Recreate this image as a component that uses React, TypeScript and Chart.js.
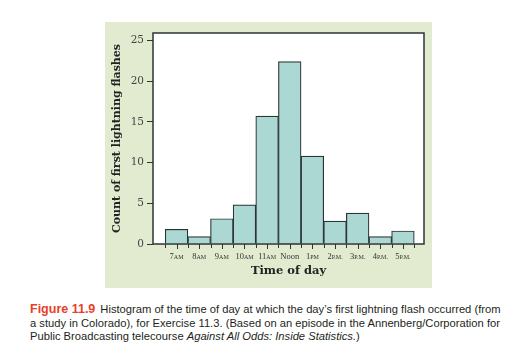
import React, { useEffect, useRef } from "react";
import { Chart, registerables } from "chart.js";

Chart.register(...registerables);

const timeLabels = ["7AM", "8AM", "9AM", "10AM", "11AM", "Noon", "1PM", "2P.M.", "3P.M.", "4P.M.", "5P.M."];
const counts = [1.8, 0.9, 3.1, 4.8, 15.7, 22.4, 10.8, 2.8, 3.8, 0.9, 1.6];
const yTicks = [0, 5, 10, 15, 20, 25];

const DARK = "#2b3535";

export default function App() {
  const ref = useRef<HTMLCanvasElement | null>(null);

  useEffect(() => {
    const canvas = ref.current;
    if (!canvas) return;

    const framePlugin = {
      id: "frame",
      beforeDatasetsDraw(chart: any) {
        const { ctx, chartArea: a } = chart;
        ctx.save();
        ctx.fillStyle = "#ffffff";
        ctx.fillRect(a.left, a.top, a.right - a.left, a.bottom - a.top);
        ctx.restore();
      },
      afterDatasetsDraw(chart: any) {
        const { ctx, chartArea: a } = chart;
        const xs = chart.scales.x;
        ctx.save();
        ctx.strokeStyle = DARK;
        ctx.lineWidth = 1.5;
        ctx.strokeRect(a.left, a.top, a.right - a.left, a.bottom - a.top);
        // tick marks at bar centers and bar edges
        ctx.lineWidth = 1;
        ctx.beginPath();
        for (let k = 0; k <= timeLabels.length * 2; k++) {
          const px = Math.round(xs.getPixelForValue(k * 0.5)) + 0.5;
          ctx.moveTo(px, a.bottom);
          ctx.lineTo(px, a.bottom + (k % 2 === 1 ? 5 : 4));
        }
        ctx.stroke();
        // custom x labels with small-caps suffix
        ctx.fillStyle = "#333";
        ctx.textBaseline = "middle";
        const y = 235;
        const big = "8.5px 'Liberation Serif'";
        const small = "6px 'Liberation Serif'";
        timeLabels.forEach((lab, i) => {
          const cx = xs.getPixelForValue(i + 0.5);
          const m = lab.match(/^(\d+)(.*)$/);
          let parts: [string, string][] = [];
          if (m) parts = [[m[1], big], [m[2], small]];
          else parts = [[lab, big]];
          let w = 0;
          parts.forEach(([t, f]) => {
            ctx.font = f;
            w += ctx.measureText(t).width;
          });
          let x = cx - w / 2;
          ctx.textAlign = "left";
          parts.forEach(([t, f]) => {
            ctx.font = f;
            ctx.fillText(t, x, y);
            x += ctx.measureText(t).width;
          });
        });
        ctx.restore();
      },
    };

    const chart = new Chart(canvas, {
      type: "bar",
      data: {
        datasets: [
          {
            data: counts.map((v, i) => ({ x: i + 0.5, y: v })),
            backgroundColor: "#acd8d4",
            borderColor: DARK,
            borderWidth: 1.2,
            barPercentage: 1,
            categoryPercentage: 1,
          },
        ],
      },
      options: {
        animation: false,
        responsive: false,
        maintainAspectRatio: false,
        layout: { padding: { top: 11, right: 8, left: 0, bottom: 0 } },
        plugins: { legend: { display: false }, tooltip: { enabled: false } },
        scales: {
          x: {
            type: "linear",
            offset: false,
            min: -0.54,
            max: 11.43,
            afterBuildTicks: (s: any) => {
              s.ticks = timeLabels.map((_, i) => ({ value: i + 0.5 }));
            },
            afterFit: (s: any) => {
              s.height = 44;
            },
            ticks: { display: false },
            grid: { display: false, offset: false },
            border: { display: false },
            title: {
              display: true,
              text: "Time of day",
              color: "#222",
              font: { family: "'DejaVu Serif'", size: 11.5, weight: "bold" },
              padding: { top: 0, bottom: 10 },
            },
          },
          y: {
            min: 0,
            max: 25.9,
            afterBuildTicks: (s: any) => {
              s.ticks = yTicks.map((v) => ({ value: v }));
            },
            afterFit: (s: any) => {
              s.width = 48;
            },
            ticks: {
              color: "#444",
              font: { family: "'DejaVu Serif'", size: 10.5 },
              padding: 3,
            },
            grid: { drawOnChartArea: false, drawTicks: true, tickLength: 6, color: DARK, lineWidth: 1 },
            border: { display: false },
            title: {
              display: true,
              text: "Count of first lightning flashes",
              color: "#222",
              font: { family: "'DejaVu Serif'", size: 11, weight: "bold" },
              padding: { top: 6, bottom: 0 },
            },
          },
        },
      },
      plugins: [framePlugin],
    } as any);

    return () => chart.destroy();
  }, []);

  const capStyle: React.CSSProperties = {
    position: "absolute",
    left: 30,
    top: 303,
    fontFamily: "'Liberation Sans', Arial, sans-serif",
    fontSize: 11.2,
    lineHeight: "13.6px",
    color: "#231f20",
    whiteSpace: "nowrap",
  };

  return (
    <div style={{ position: "fixed", left: 0, top: 0, width: 517, height: 352, background: "#ffffff", overflow: "hidden" }}>
      <div style={{ position: "absolute", left: 105, top: 22, width: 327, height: 266, background: "#e2ebcf" }}>
        <canvas ref={ref} width={327} height={266} style={{ display: "block", width: 327, height: 266 }} />
      </div>
      <div style={capStyle}>
        <div>
          <span style={{ color: "#e8402a", fontWeight: "bold", fontSize: 12.5, marginRight: 5 }}>Figure 11.9</span>
          Histogram of the time of day at which the day’s first lightning flash occurred (from
        </div>
        <div>a study in Colorado), for Exercise 11.3. (Based on an episode in the Annenberg/Corporation for</div>
        <div>
          Public Broadcasting telecourse <i>Against All Odds: Inside Statistics.</i>)
        </div>
      </div>
    </div>
  );
}
